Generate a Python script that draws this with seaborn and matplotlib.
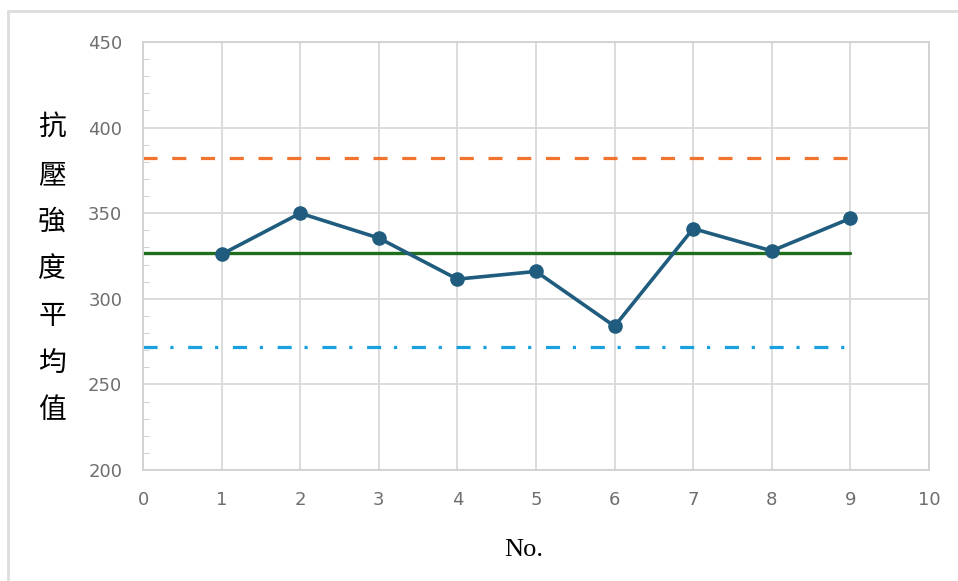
import matplotlib
matplotlib.use('Agg')
import numpy as np
import pandas as pd
from matplotlib import pyplot as plt
from matplotlib.ticker import MultipleLocator
from matplotlib.lines import Line2D
import seaborn as sns

sns.set_style('white')
plt.rcParams['font.family'] = ['Noto Sans CJK TC', 'DejaVu Sans']

# data
sample_no = [1, 2, 3, 4, 5, 6, 7, 8, 9]
strength_mean = [326, 350, 335.5, 311.5, 316, 284, 341, 328, 347]
ucl = 382
center = 327
lcl = 272
limit_span = [0, 9]
ylabel_chars = ['抗', '壓', '強', '度', '平', '均', '值']

df = pd.DataFrame({'no': sample_no, 'val': strength_mean})

fig = plt.figure(figsize=(9.58, 5.81), dpi=100)
ax = fig.add_axes([0.1493, 0.191, 0.8204, 0.7367])

# control limit lines
sns.lineplot(x=limit_span, y=[ucl, ucl], ax=ax, color='#F07430', lw=2.3,
             linestyle=(0, (4.4, 4.6)))
sns.lineplot(x=limit_span, y=[lcl, lcl], ax=ax, color='#18A0DF', lw=2.3,
             linestyle=(0, (4.4, 4.0, 1.0, 4.6)))
sns.lineplot(x=limit_span, y=[center, center], ax=ax, color='#1E6E1E', lw=2.4)

# sample means
sns.lineplot(data=df, x='no', y='val', ax=ax, color='#1F5C7E', lw=2.6,
             marker='o', markersize=10.5, markeredgewidth=0)

ax.set_xlim(0, 10)
ax.set_ylim(200, 450)
ax.xaxis.set_major_locator(MultipleLocator(1))
ax.yaxis.set_major_locator(MultipleLocator(50))
ax.yaxis.set_minor_locator(MultipleLocator(10))
ax.grid(True, which='major', color='#D9D9D9', lw=1.3)
ax.set_axisbelow(True)
for s in ax.spines.values():
    s.set_color('#D0D0D0')
    s.set_linewidth(1.3)
ax.tick_params(which='major', length=0, labelsize=13, labelcolor='#6E6E6E')
ax.tick_params(axis='x', pad=15)
ax.tick_params(axis='y', pad=15)
ax.tick_params(which='minor', axis='y', direction='in', length=4,
               color='#C8C8C8', left=True)
for lab in ax.get_xticklabels() + ax.get_yticklabels():
    lab.set_family('DejaVu Sans')

ax.set_xlabel('No.', family='Liberation Serif', fontsize=19, color='black')
ax.xaxis.set_label_coords(0.484, -0.162)
ax.set_ylabel('\n'.join(ylabel_chars), rotation=0, fontsize=20,
              color='black', linespacing=1.74, va='center', ha='center')
ax.yaxis.set_label_coords(-0.1158, 0.47)

# outer frame of the picture
fig.add_artist(Line2D([0.0084, 0.0084], [0, 0.981], color='#DDDDDD', lw=2,
                      transform=fig.transFigure))
fig.add_artist(Line2D([0.0084, 1], [0.981, 0.981], color='#DDDDDD', lw=2,
                      transform=fig.transFigure))

plt.savefig('out.png', dpi=100)
